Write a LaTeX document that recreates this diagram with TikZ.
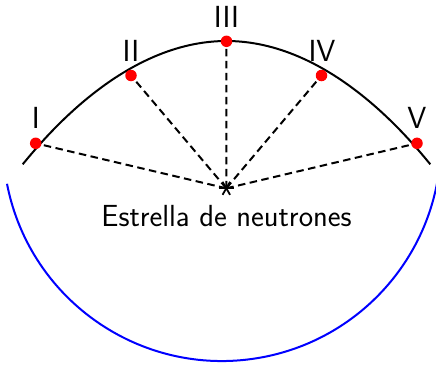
\documentclass[tikz,border=0pt]{standalone}
\usepackage{fontspec}
\begin{document}
\begin{tikzpicture}[x=1pt,y=-1pt,
  dotnode/.style={circle,fill=red,inner sep=0pt,minimum size=11.5pt},
  lbl/.style={font=\fontsize{30.5}{36}\selectfont\sffamily,anchor=base,inner sep=0pt},
  ray/.style={dash pattern=on 7.5pt off 4.5pt,line width=2pt},
  curve/.style={line width=2pt},
  starline/.style={line width=1.8pt}
]
\useasboundingbox (0,0) rectangle (436,364);
% blue arc
\draw[curve,blue] (7,183.8) arc[start angle=169,end angle=9.5,radius=219];
% black parabola
\draw[curve] (22.7,164.3) parabola bend (226.5,41) (430.3,164.3);
% points
\coordinate (s) at (226.3,188.3);
\coordinate (p1) at (35.7,143.3);
\coordinate (p2) at (131,75.5);
\coordinate (p3) at (226.5,41.3);
\coordinate (p4) at (321.5,75.5);
\coordinate (p5) at (417,143.3);
\foreach \p in {p1,p2,p3,p4,p5} \draw[ray] (s) -- (\p);
\node[dotnode] (d1) at (p1) {};
\node[dotnode] (d2) at (p2) {};
\node[dotnode] (d3) at (p3) {};
\node[dotnode] (d4) at (p4) {};
\node[dotnode] (d5) at (p5) {};
% star
\draw[starline] ([shift={(-7.5,0)}]s) -- ([shift={(7.5,0)}]s);
\draw[starline] ([shift={(-3.75,-6.5)}]s) -- ([shift={(3.75,6.5)}]s);
\draw[starline] ([shift={(3.75,-6.5)}]s) -- ([shift={(-3.75,6.5)}]s);
% labels
\node[lbl] (l1) at (35.7,128.3) {I};
\node[lbl] (l2) at (131,61.7) {II};
\node[lbl] (l3) at (226.5,27.3) {III};
\node[lbl] (l4) at (322,61.7) {IV};
\node[lbl] (l5) at (417,128.8) {V};
\node[lbl] (t) at (226.5,226.5) {Estrella de neutrones};
\end{tikzpicture}
\end{document}
